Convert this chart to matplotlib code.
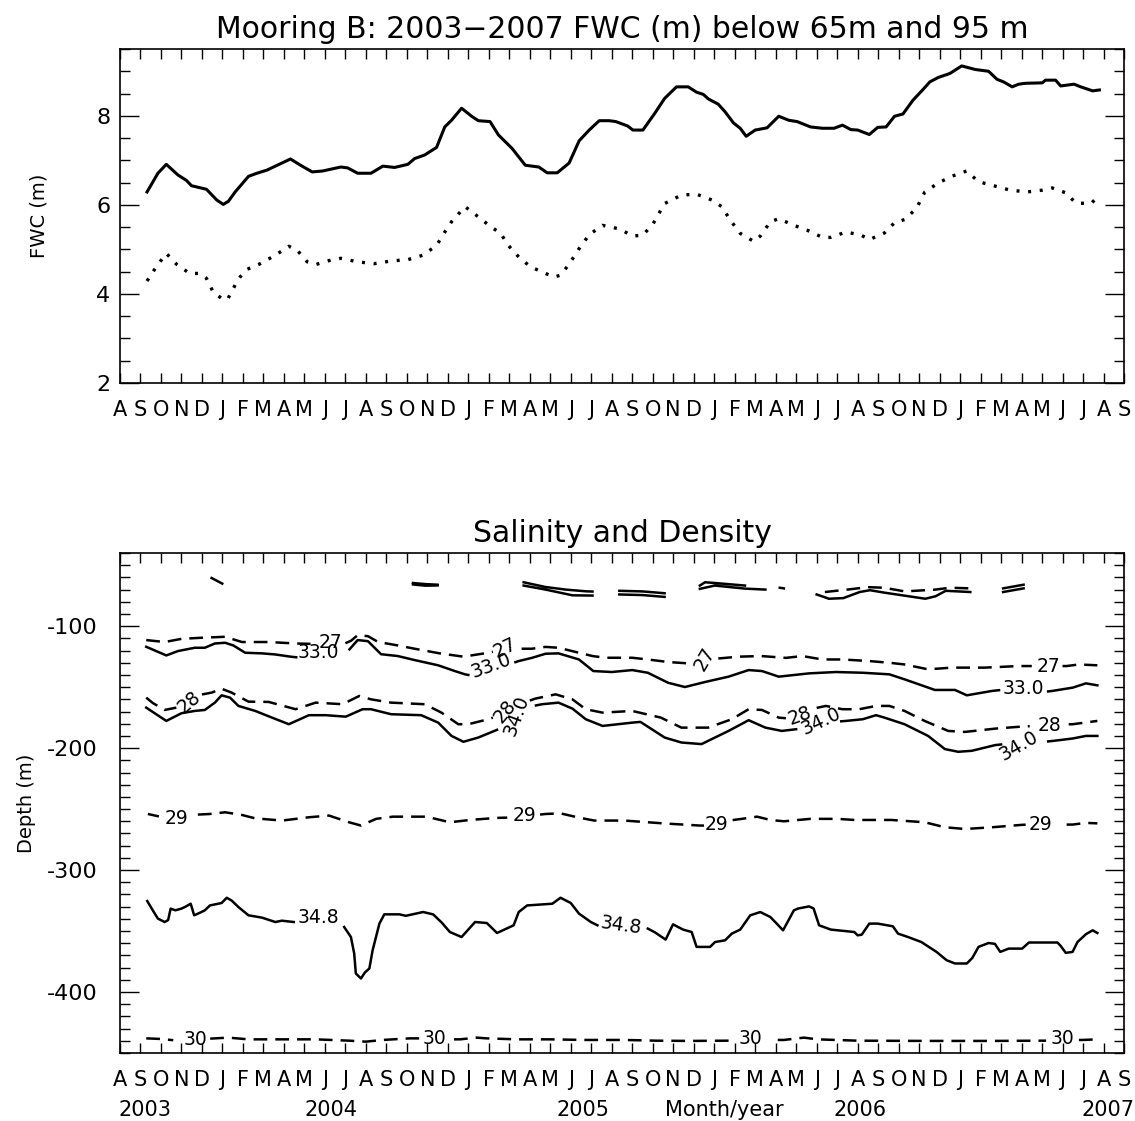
import numpy as np
import matplotlib
matplotlib.use('Agg')
import matplotlib.pyplot as plt
from matplotlib.ticker import MultipleLocator, FixedLocator
from matplotlib.transforms import blended_transform_factory

plt.rcParams['font.family'] = ['DejaVu Sans']
plt.rcParams['axes.unicode_minus'] = False

nan = np.nan

# x values are months counted from 1 Aug 2003
month_letters = ['A', 'S', 'O', 'N', 'D', 'J', 'F', 'M', 'A', 'M', 'J', 'J']
year_labels = ['2003', '2004', '2005', 'Month/year', '2006', '2007']
year_pos = [1.2, 10.3, 22.6, 29.5, 36.1, 48.2]

# ---- top panel: FWC below 65 m (solid) and 95 m (dotted)
fwc65_t = [1.32, 1.85, 2.26, 2.83, 3.24, 3.49, 4.22, 4.72, 5.04, 5.29, 5.62, 6.27, 6.68,
           7.17, 8.32, 8.81, 9.38, 9.88, 10.78, 11.11, 11.6, 12.25, 12.83, 13.4, 14.05,
           14.38, 14.87, 15.45, 15.85, 16.18, 16.67, 17.16, 17.49, 18.06, 18.47, 19.13,
           19.78, 20.44, 20.85, 21.34, 21.92, 22.41, 22.9, 23.39, 23.88, 24.2, 24.78,
           25.03, 25.52, 26.09, 26.58, 27.16, 27.73, 28.14, 28.47, 28.71, 29.2, 29.53,
           29.94, 30.27, 30.56, 31.0, 31.58, 32.15, 32.64, 33.05, 33.7, 34.28, 34.85,
           35.26, 35.67, 36.0, 36.57, 36.98, 37.39, 37.8, 38.21, 38.7, 39.19, 39.52,
           39.93, 40.5, 41.08, 41.74, 42.39, 42.8, 43.13, 43.54, 43.86, 44.19, 45.01,
           45.17, 45.66, 45.91, 46.56, 46.89, 47.47, 47.8]
fwc65_v = [6.29, 6.71, 6.91, 6.67, 6.55, 6.43, 6.35, 6.11, 6.01, 6.08, 6.29, 6.64, 6.71,
           6.78, 7.03, 6.89, 6.74, 6.76, 6.85, 6.83, 6.71, 6.71, 6.87, 6.84, 6.91,
           7.04, 7.12, 7.29, 7.75, 7.9, 8.17, 7.99, 7.89, 7.87, 7.57, 7.27,
           6.89, 6.85, 6.72, 6.72, 6.94, 7.44, 7.68, 7.89, 7.89, 7.87, 7.77,
           7.68, 7.68, 8.05, 8.39, 8.65, 8.65, 8.53, 8.48, 8.38, 8.26, 8.09,
           7.84, 7.72, 7.54, 7.68, 7.73, 7.99, 7.9, 7.87, 7.75, 7.72, 7.72,
           7.79, 7.69, 7.68, 7.58, 7.74, 7.75, 7.99, 8.04, 8.35, 8.59, 8.76,
           8.86, 8.95, 9.12, 9.04, 9.0, 8.82, 8.76, 8.65, 8.71, 8.73, 8.74,
           8.8, 8.8, 8.67, 8.71, 8.65, 8.56, 8.58]

fwc95_t = [1.32, 1.77, 2.26, 2.75, 3.4, 3.9, 4.22, 4.55, 4.96, 5.24, 5.62, 5.86, 6.19,
           6.85, 7.58, 8.24, 8.65, 9.14, 9.55, 10.29, 10.78, 11.6, 12.41, 13.23, 14.05,
           14.79, 15.45, 15.85, 16.18, 16.84, 17.49, 18.15, 18.56, 18.97, 19.46, 20.03,
           20.77, 21.18, 21.5, 21.92, 22.41, 22.9, 23.55, 24.37, 25.03, 25.52, 26.01,
           26.58, 27.4, 28.14, 28.88, 29.37, 29.78, 30.27, 30.93, 31.25, 31.74, 32.15,
           32.89, 33.54, 34.28, 34.69, 35.43, 36.17, 36.57, 37.31, 37.8, 38.29, 38.87,
           39.28, 39.93, 40.58, 41.32, 41.9, 42.72, 43.45, 44.27, 45.01, 45.5, 46.16,
           46.65, 47.39, 47.72]
fwc95_v = [4.29, 4.61, 4.91, 4.67, 4.46, 4.46, 4.35, 4.04, 3.9, 3.87, 4.2, 4.38, 4.55,
           4.68, 4.87, 5.07, 4.98, 4.72, 4.66, 4.76, 4.8, 4.72, 4.68, 4.74, 4.77,
           4.87, 5.09, 5.39, 5.62, 5.96, 5.73, 5.49, 5.37, 5.08, 4.83, 4.61,
           4.46, 4.38, 4.42, 4.67, 5.02, 5.33, 5.54, 5.46, 5.3, 5.32, 5.57,
           6.03, 6.22, 6.24, 6.11, 5.96, 5.66, 5.36, 5.18, 5.3, 5.62, 5.69,
           5.54, 5.43, 5.27, 5.27, 5.39, 5.32, 5.22, 5.37, 5.6, 5.67, 5.92,
           6.29, 6.49, 6.64, 6.76, 6.52, 6.42, 6.33, 6.29, 6.33, 6.38, 6.27,
           6.04, 6.03, 6.18]

# ---- bottom panel: contours (solid = salinity, dashed = density), nan = label gap
sig27_t = [1.28, 2.18, 3.0, 3.98, 5.13, 5.95, 7.25, 8.57, 9.3, nan, 11.0, 11.27, 11.6, 12.1,
           12.6, 13.56, 14.38, 15.6, 16.76, 17.98, 18.2, nan, 19.6, 20.1, 20.77, 21.4, 22.4,
           23.06, 23.7, 25.0, 25.76, 26.75, 27.73, 28.0, nan, 29.2, 30.2, 31.3, 32.5, 33.3,
           34.28, 35.26, 36.57, 37.55, 38.29, 39.44, 40.59, 42.2, 43.86, 44.5, nan, 46.0,
           46.2, 46.8, 47.7]
sig27_z = [-111.4, -113, -110.4, -109.5, -108.7, -113, -113, -114.2, -114.5, nan, -114, -112,
           -107.4, -108.2, -113, -115.8, -118.5, -122.3, -125, -121.8, -121, nan, -118.5,
           -118.5, -117, -117.7, -121.8, -124.5, -125.9, -125.9, -127.3, -129.4, -130.5,
           -130, nan, -126.5, -125, -124.5, -126, -124.5, -127.3, -127.3, -128.6, -130,
           -131.4, -135.4, -134, -134, -132.7, -132.7, nan, -132.7, -132.7, -131.4, -132.1]

sal33_t = [1.28, 2.26, 2.83, 3.65, 4.14, 4.63, 5.13, 5.53, 6.11, 6.93, 7.58, 8.32, 8.6, nan,
           11.2, 11.6, 12.1, 12.74, 13.56, 14.38, 15.53, 16.34, 16.84, 17.0, nan, 19.3,
           19.46, 20.1, 20.77, 21.4, 22.4, 23.1, 24.0, 25.0, 25.76, 26.75, 27.57, 28.55,
           29.7, 30.68, 31.33, 32.15, 33.63, 34.94, 36.25, 37.55, 38.29, 39.77, 40.75,
           41.33, 42.56, 42.9, nan, 45.3, 45.5, 46.5, 47.14, 47.7]
sal33_z = [-116.9, -124, -120.4, -117.7, -117.7, -114.2, -113.6, -115.8, -121.8, -122.3,
           -123.2, -125, -125.5, nan, -119, -111.4, -112.3, -123, -124.5, -127.8, -132.1,
           -136.8, -139.5, -140, nan, -129.5, -128.6, -126, -122.6, -122.3, -127.3, -136.8,
           -137.6, -136, -138.2, -146.4, -149.9, -145.8, -141.4, -136, -136.8, -141.4,
           -138.7, -137.6, -138.2, -139.5, -143.6, -152.3, -152.3, -156.7, -153.1, -152.5,
           nan, -153.5, -153.1, -150.4, -146.9, -148.5]

sig28_t = [1.28, 1.6, 2.18, 2.75, nan, 4.0, 4.47, 4.96, 5.45, 6.27, 7.25, 8.57, 9.55, 10.86,
           11.68, 12.25, 13.23, 14.87, 15.69, 16.51, 17.0, 17.98, 18.2, nan, 20.0, 20.27,
           21.26, 22.08, 22.73, 23.55, 25.0, 26.4, 27.4, 28.7, 29.86, 30.68, 31.33, 32.15,
           32.5, nan, 34.0, 34.45, 35.26, 36.08, 36.9, 37.55, 38.29, 39.27, 40.42, 41.24,
           42.72, 44.03, 44.4, nan, 46.3, 46.5, 47.7]
sig28_z = [-158.6, -163, -168.7, -166.8, nan, -156, -154.5, -151.3, -154.5, -161.9, -162.1,
           -168.1, -162.7, -164, -157.2, -160, -162.7, -164, -170.9, -180.4, -180.4, -176.3,
           -175, nan, -161, -159.4, -155.9, -160, -168.1, -170.9, -169.5, -175, -183.2,
           -183.2, -176.3, -168.1, -168.7, -175, -175.5, nan, -167, -165.4, -168.1, -168.1,
           -165.4, -165.4, -169.5, -177.7, -185.9, -186.7, -184, -182.3, -182, nan, -180.5,
           -180.4, -177.7]

sal34_t = [1.28, 2.26, 3.0, 3.65, 4.14, 4.63, 4.96, 5.37, 5.78, 6.6, 7.42, 8.24, 9.22, 10.04,
           11.02, 11.84, 12.25, 13.23, 14.7, 15.53, 16.18, 16.76, 17.49, 18.4, nan, 20.3,
           20.6, 21.4, 22.08, 22.73, 23.55, 25.0, 25.4, 26.58, 27.4, 28.38, 29.7, 30.68,
           31.5, 32.3, 33.0, nan, 35.2, 35.43, 36.25, 36.9, 37.31, 38.29, 39.44, 40.26,
           40.91, 41.57, 42.72, 43.0, nan, 45.3, 45.58, 46.5, 47.14, 47.7]
sal34_z = [-166.8, -177.7, -171.4, -169.5, -168.7, -162.7, -156.7, -158.6, -165.4, -169.5,
           -175, -180.4, -173, -173, -174.2, -168.1, -168.1, -172.2, -173, -179.1, -190,
           -194.8, -191.3, -185, nan, -165, -164, -162.7, -167.6, -176.3, -181.8, -179.1,
           -178.5, -191.3, -195.4, -196.7, -185.9, -177.1, -183.2, -185.9, -184.5, nan,
           -178, -177.7, -176.3, -173, -175, -180.4, -190, -200.8, -203, -202.2, -197.5,
           -197, nan, -194.5, -194, -192.1, -190, -190]

sig29_t = [1.36, 1.9, nan, 3.8, 4.39, 5.13, 5.95, 6.6, 7.91, 9.22, 10.2, 11.18, 11.76, 12.5,
           13.32, 14.95, 16.1, 17.08, 18.4, 18.9, nan, 20.5, 20.77, 21.5, 22.32, 23.14,
           24.62, 26.5, 28.3, 28.5, nan, 29.9, 30.35, 31.09, 31.74, 32.4, 33.7, 35.0, 35.84,
           37.64, 39.28, 40.26, 41.24, 42.56, 44.03, 44.2, nan, 46.2, 46.49, 47.14, 47.7]
sig29_z = [-254, -256, nan, -254.5, -254, -252.6, -254.8, -257.6, -259.4, -256.7, -255.3,
           -260.8, -263.5, -258, -256.2, -256.2, -260.8, -258.9, -257.2, -257, nan, -254.5,
           -254, -253.5, -256.7, -259.4, -259.4, -261.7, -263.5, -263.5, nan, -259, -258,
           -256.2, -258.9, -260, -258, -258, -258.9, -258.9, -260.8, -264.9, -266.3, -264.9,
           -262.9, -262.8, nan, -262.7, -262.7, -261.3, -261.7]

sal348_t = [1.33, 1.6, 1.85, 2.18, 2.35, 2.47, 2.7, 3.0, 3.2, 3.45, 3.62, 3.9, 4.14, 4.39,
            4.96, 5.21, 5.45, 5.78, 6.27, 6.93, 7.58, 7.9, 8.48, nan, 10.94, 11.27, 11.43,
            11.51, 11.76, 11.95, 12.17, 12.33, 12.66, 12.9, 13.64, 13.95, 14.79, 15.28,
            15.7, 16.1, 16.67, 17.33, 17.9, 18.4, 19.21, 19.46, 19.87, 21.1, 21.5, 22.0,
            22.4, 22.98, 23.3, nan, 25.76, 26.1, 26.63, 26.99, 27.48, 27.9, 28.14, 28.8,
            29.04, 29.53, 29.86, 30.27, 30.76, 31.25, 31.74, 32.0, 32.36, 32.89, 33.1,
            33.63, 33.85, 34.12, 34.69, 35.84, 36.0, 36.2, 36.57, 36.98, 37.72, 37.97,
            38.46, 39.11, 39.85, 40.34, 40.75, 41.33, 41.6, 41.9, 42.39, 42.7, 42.96,
            43.37, 44.03, 44.36, 45.75, 45.9, 46.16, 46.49, 46.73, 47.14, 47.47, 47.7]
sal348_z = [-325.4, -333, -339.8, -342.6, -341, -331.6, -333, -331.6, -330, -327.6, -337.1,
            -335, -333, -329, -327, -322.7, -325, -330.3, -337.1, -339, -342.6, -341.5,
            -342.6, nan, -346.7, -354.9, -368.4, -384.8, -388.9, -384, -380.7, -365.7,
            -343.9, -336.3, -336.3, -337.5, -334.4, -336.3, -343, -350.8, -354.9, -342.6,
            -343.4, -351.6, -345.3, -334.4, -329, -327.6, -322.7, -327, -335.7, -342.6,
            -345.3, nan, -348, -351, -357, -344.5, -348.8, -350.8, -363, -363, -359, -357.6,
            -352.1, -348.8, -337.1, -334.4, -338.5, -343, -349.4, -333, -331.5, -329.8,
            -331.5, -345.3, -348.8, -350.8, -353.5, -353, -343.9, -343.9, -346.1, -352.1,
            -354.9, -359, -367.1, -373.9, -376.6, -376.6, -372, -363, -359.8, -360.5,
            -367.1, -364.4, -364.4, -359.4, -359.4, -362, -367.9, -367.1, -359, -352.6,
            -349.4, -351.6]

sig30_t = [1.28, 2.0, 2.6, nan, 4.4, 4.63, 5.29, 6.27, 7.91, 9.55, 11.18, 12.0, 12.83, 14.14,
           14.6, nan, 16.3, 16.6, 17.4, 17.9, 19.37, 21.0, 22.65, 24.62, 26.17, 27.81, 29.6,
           29.9, nan, 32.1, 32.4, 33.38, 34.03, 36.0, 39.28, 42.56, 45.0, 45.2, nan, 46.8,
           46.98, 47.7]
sig30_z = [-438, -438.5, -439.5, nan, -438.2, -438, -437.4, -438.8, -438.8, -438.8, -439.9,
           -440.7, -439.3, -438, -438, nan, -438.8, -438.8, -437.4, -438, -438.8, -438.8,
           -439.3, -439.3, -439.9, -440.1, -439.9, -439.9, nan, -439.3, -439.3, -437.4,
           -438.8, -439.9, -440.1, -440.1, -439.9, -439.9, nan, -439.3, -439.3, -438.8]

# shallow fragments near 65-80 m (unlabelled)
frag_solid_t = [4.47, 4.99, nan, 14.3, 14.9, 15.5, nan, 14.3, 14.9, 15.5, nan,
                19.7, 20.77, 21.75, 22.73, 23.06, nan, 19.7, 20.77, 22.08, 23.06, nan,
                24.37, 25.5, 26.58, nan, 24.37, 25.5, 26.58, nan,
                28.3, 28.55, 29.03, 30.5, nan, 28.3, 29.03, 30.5, 31.5, nan, 32.2, 32.4, nan,
                34.0, 34.6, 35.3, 36.1, 36.6, 37.3, 38.3, 39.3, 39.8, 40.3, 41.5, nan,
                43.1, 43.6, 44.1, nan, 43.1, 43.6, 44.1]
frag_solid_z = [-60.5, -65.1, nan, -64.6, -65.5, -66.0, nan, -65.8, -66.8, -66.6, nan,
                -64.0, -67.9, -70.0, -71.4, -71.6, nan, -66.7, -70.0, -74.7, -74.9, nan,
                -71.0, -71.5, -73.0, nan, -74.0, -74.5, -76.0, nan,
                -66.7, -64.0, -64.6, -66.7, nan, -69.4, -66.7, -69.2, -70.0, nan, -68.5, -69.0, nan,
                -74.0, -77.5, -77.0, -72.0, -70.5, -72.5, -75.0, -77.5, -75.5, -71.0, -72.0, nan,
                -69.0, -67.5, -66.0, nan, -72.0, -70.5, -69.0]
frag_dash_t = [34.4, 35.5, 36.5, 37.3, 38.3, 39.8, 40.5, 41.5]
frag_dash_z = [-72.0, -70.0, -68.0, -68.5, -71.5, -70.0, -68.5, -69.0]

# contour labels
clab_text = ['27', '27', '27', '27', '33.0', '33.0', '33.0',
             '28', '28', '28', '28', '34.0', '34.0', '34.0',
             '29', '29', '29', '29', '34.8', '34.8', '30', '30', '30', '30']
clab_t = [10.25, 18.8, 28.55, 45.3, 9.67, 18.1, 44.07,
          3.36, 18.8, 33.2, 45.37, 19.34, 34.2, 43.86,
          2.75, 19.74, 29.1, 44.93, 9.7, 24.45, 3.7, 15.36, 30.76, 46.0]
clab_z = [-113, -118, -127.3, -132.7, -122, -132.7, -151.5,
          -162, -169.5, -173.2, -181.8, -173.6, -177.7, -198.1,
          -257.4, -255.4, -262.7, -262.3, -339.2, -345.3, -439.3, -437.7, -438.5, -438.5]
clab_rot = [0, 25, 60, 0, 0, 20, 0,
            40, 50, 20, 0, 70, 25, 30,
            0, 0, 0, 0, 0, -8, 0, 0, 0, 0]

W, H = 1135, 1121
fig = plt.figure(figsize=(W / 100, H / 100), dpi=100)
x0, x1 = 120 / W, 1124 / W
ax1 = fig.add_axes([x0, 1 - 383 / H, x1 - x0, (383 - 49) / H])
ax2 = fig.add_axes([x0, 1 - 1053 / H, x1 - x0, (1053 - 553) / H])

n_months = 49
month_ticks = list(range(n_months + 1))
month_tick_labels = [month_letters[i % 12] for i in month_ticks]

for ax in (ax1, ax2):
    ax.set_xlim(0, n_months)
    ax.xaxis.set_major_locator(FixedLocator(month_ticks))
    ax.set_xticklabels(month_tick_labels)
    ax.tick_params(axis='x', which='major', direction='in', length=7, width=1,
                   top=True, pad=12, labelsize=15)
    ax.tick_params(axis='y', which='major', direction='in', length=14, width=1,
                   right=True, labelsize=16)
    ax.tick_params(axis='y', which='minor', direction='in', length=7, width=1,
                   right=True)
    for sp in ax.spines.values():
        sp.set_linewidth(1.2)

# top panel
ax1.plot(fwc65_t, fwc65_v, color='black', lw=2.2, solid_joinstyle='round')
ax1.plot(fwc95_t, fwc95_v, color='black', lw=2.4, linestyle=(0, (0.9, 2.6)))
ax1.set_ylim(2, 9.5)
ax1.yaxis.set_major_locator(FixedLocator([2, 4, 6, 8]))
ax1.yaxis.set_minor_locator(MultipleLocator(0.5))
ax1.tick_params(axis='y', which='major', pad=7)
ax1.set_ylabel('FWC (m)', fontsize=14, labelpad=34)
ax1.set_title('Mooring B: 2003\u22122007 FWC (m) below 65m and 95 m', fontsize=21.5, pad=8)

# bottom panel
dash = (0, (5.5, 3.2))
ax2.plot(frag_solid_t, frag_solid_z, color='black', lw=1.8)
ax2.plot(frag_dash_t, frag_dash_z, color='black', lw=1.8, linestyle=dash)
for t, z in [(sal33_t, sal33_z), (sal34_t, sal34_z), (sal348_t, sal348_z)]:
    ax2.plot(t, z, color='black', lw=1.8)
for t, z in [(sig27_t, sig27_z), (sig28_t, sig28_z), (sig29_t, sig29_z), (sig30_t, sig30_z)]:
    ax2.plot(t, z, color='black', lw=1.8, linestyle=dash)
for s, t, z, r in zip(clab_text, clab_t, clab_z, clab_rot):
    ax2.text(t, z, s, fontsize=13.5, rotation=r, ha='center', va='center',
             rotation_mode='anchor', color='black')

ax2.set_ylim(-450, -40)
ax2.yaxis.set_major_locator(FixedLocator([-100, -200, -300, -400]))
ax2.set_yticklabels(['-100', '-200', '-300', '-400'])
ax2.yaxis.set_minor_locator(MultipleLocator(10))
ax2.tick_params(axis='y', which='major', pad=16)
ax2.set_ylabel('Depth (m)', fontsize=14, labelpad=8)
ax2.set_title('Salinity and Density', fontsize=21.5, pad=8)

trans = blended_transform_factory(ax2.transData, ax2.transAxes)
for s, t in zip(year_labels, year_pos):
    ax2.text(t, -0.114, s, transform=trans, ha='center', va='center', fontsize=15)

fig.savefig('out.png', dpi=100)
